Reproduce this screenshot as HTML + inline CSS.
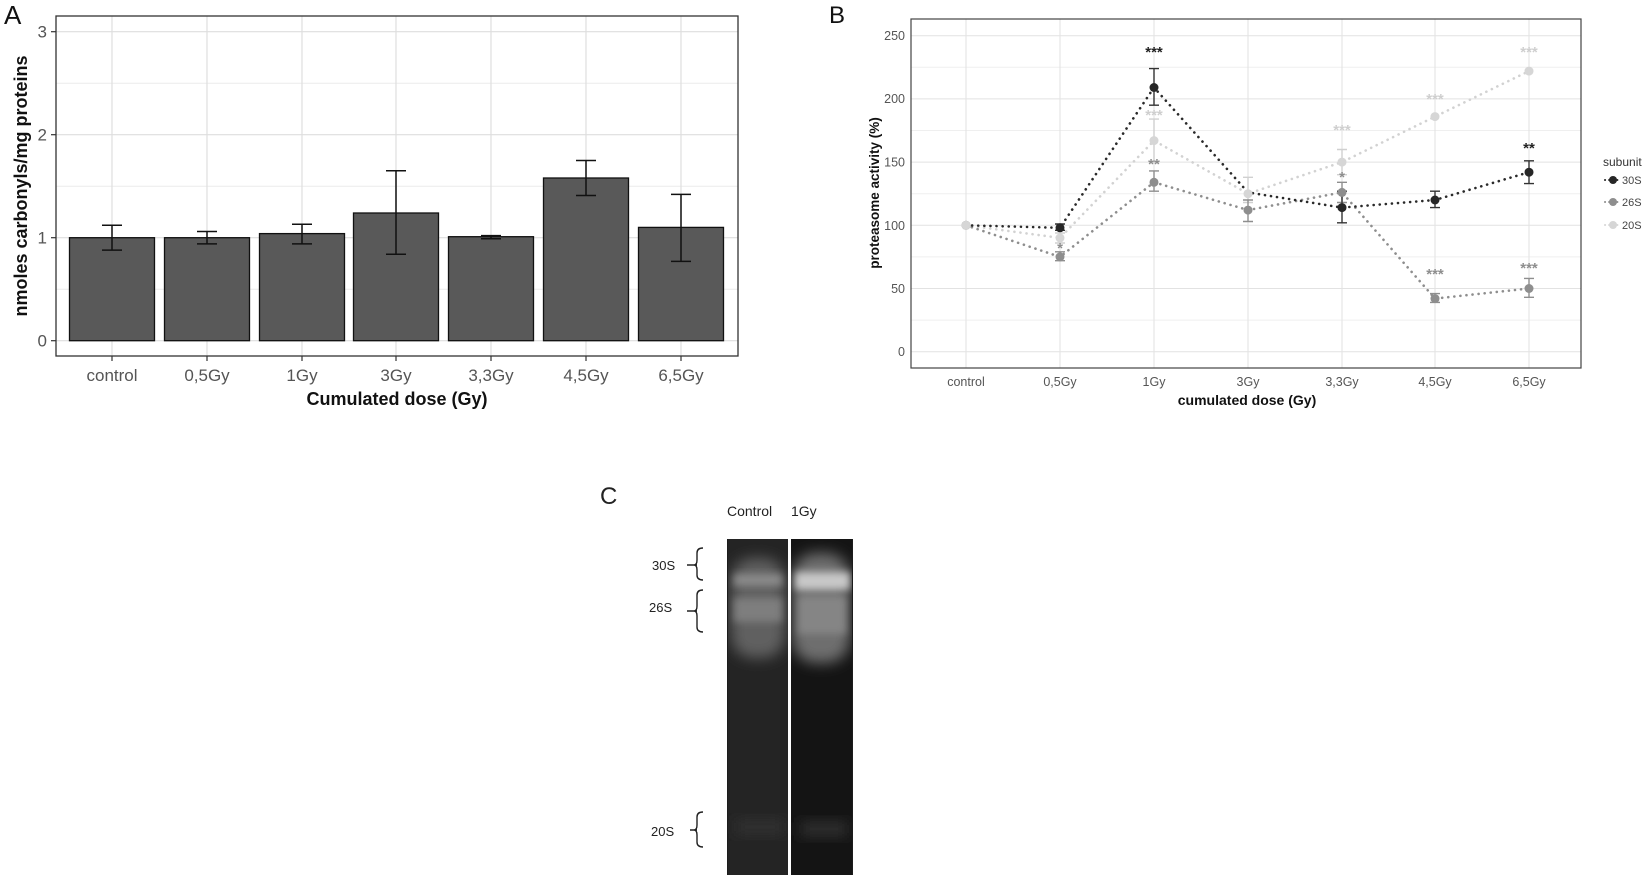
<!DOCTYPE html>
<html><head><meta charset="utf-8"><style>
html,body{margin:0;padding:0;background:#fff;}
svg{display:block;font-family:"Liberation Sans",Arial,sans-serif;}
</style></head><body>
<svg width="1650" height="875" viewBox="0 0 1650 875" xmlns="http://www.w3.org/2000/svg">
<defs>
<filter id="bl" x="-50%" y="-50%" width="200%" height="200%"><feGaussianBlur stdDeviation="7"/></filter>
<filter id="bl2" x="-50%" y="-50%" width="200%" height="200%"><feGaussianBlur stdDeviation="4"/></filter>
<clipPath id="cl1"><rect x="728" y="539" width="60" height="336"/></clipPath>
<clipPath id="cl2"><rect x="791" y="539" width="61" height="336"/></clipPath>
</defs>

<!-- Panel A -->
<text x="4" y="24" font-size="26" fill="#111">A</text>
<g stroke="#ebebeb" stroke-width="1">
<line x1="56" x2="738" y1="289.2" y2="289.2"/><line x1="56" x2="738" y1="186.2" y2="186.2"/><line x1="56" x2="738" y1="83.2" y2="83.2"/>
</g>
<g stroke="#dedede" stroke-width="1.2">
<line x1="56" x2="738" y1="340.7" y2="340.7"/><line x1="56" x2="738" y1="237.7" y2="237.7"/><line x1="56" x2="738" y1="134.7" y2="134.7"/><line x1="56" x2="738" y1="31.7" y2="31.7"/>
<line x1="112" x2="112" y1="16" y2="356"/><line x1="207" x2="207" y1="16" y2="356"/><line x1="302" x2="302" y1="16" y2="356"/><line x1="396" x2="396" y1="16" y2="356"/><line x1="491" x2="491" y1="16" y2="356"/><line x1="586" x2="586" y1="16" y2="356"/><line x1="681" x2="681" y1="16" y2="356"/>
</g>
<g fill="#595959" stroke="#111" stroke-width="1.3">
<rect x="69.5" y="237.7" width="85" height="103"/>
<rect x="164.5" y="237.7" width="85" height="103"/>
<rect x="259.5" y="233.6" width="85" height="107.1"/>
<rect x="353.5" y="213" width="85" height="127.7"/>
<rect x="448.5" y="236.7" width="85" height="104"/>
<rect x="543.5" y="178" width="85" height="162.7"/>
<rect x="638.5" y="227.4" width="85" height="113.3"/>
</g>
<g stroke="#111" stroke-width="1.5" fill="none">
<path d="M112 225.3V250.1M102 225.3H122M102 250.1H122"/>
<path d="M207 231.5V243.9M197 231.5H217M197 243.9H217"/>
<path d="M302 224.3V243.9M292 224.3H312M292 243.9H312"/>
<path d="M396 170.8V254.2M386 170.8H406M386 254.2H406"/>
<path d="M491 235.6V238.7M481 235.6H501M481 238.7H501"/>
<path d="M586 160.5V195.5M576 160.5H596M576 195.5H596"/>
<path d="M681 194.4V261.4M671 194.4H691M671 261.4H691"/>
</g>
<rect x="56" y="16" width="682" height="340" fill="none" stroke="#333" stroke-width="1.3"/>
<g stroke="#333" stroke-width="1.2">
<line x1="51" x2="56" y1="340.7" y2="340.7"/><line x1="51" x2="56" y1="237.7" y2="237.7"/><line x1="51" x2="56" y1="134.7" y2="134.7"/><line x1="51" x2="56" y1="31.7" y2="31.7"/>
<line x1="112" x2="112" y1="356" y2="361"/><line x1="207" x2="207" y1="356" y2="361"/><line x1="302" x2="302" y1="356" y2="361"/><line x1="396" x2="396" y1="356" y2="361"/><line x1="491" x2="491" y1="356" y2="361"/><line x1="586" x2="586" y1="356" y2="361"/><line x1="681" x2="681" y1="356" y2="361"/>
</g>
<g font-size="17" fill="#555" text-anchor="end">
<text x="47" y="346.7">0</text><text x="47" y="243.7">1</text><text x="47" y="140.7">2</text><text x="47" y="37.7">3</text>
</g>
<g font-size="17" fill="#555" text-anchor="middle">
<text x="112" y="381">control</text><text x="207" y="381">0,5Gy</text><text x="302" y="381">1Gy</text><text x="396" y="381">3Gy</text><text x="491" y="381">3,3Gy</text><text x="586" y="381">4,5Gy</text><text x="681" y="381">6,5Gy</text>
</g>
<text x="397" y="405" font-size="18" font-weight="bold" text-anchor="middle" fill="#111">Cumulated dose (Gy)</text>
<text transform="translate(27,186) rotate(-90)" font-size="18" font-weight="bold" text-anchor="middle" fill="#111">nmoles carbonyls/mg proteins</text>

<!-- Panel B -->
<text x="829" y="23" font-size="24" fill="#111">B</text>
<g stroke="#efefef" stroke-width="1">
<line x1="911" x2="1581" y1="320.1" y2="320.1"/><line x1="911" x2="1581" y1="256.9" y2="256.9"/><line x1="911" x2="1581" y1="193.7" y2="193.7"/><line x1="911" x2="1581" y1="130.5" y2="130.5"/><line x1="911" x2="1581" y1="67.3" y2="67.3"/>
</g>
<g stroke="#e2e2e2" stroke-width="1">
<line x1="911" x2="1581" y1="351.7" y2="351.7"/><line x1="911" x2="1581" y1="288.5" y2="288.5"/><line x1="911" x2="1581" y1="225.3" y2="225.3"/><line x1="911" x2="1581" y1="162.1" y2="162.1"/><line x1="911" x2="1581" y1="98.9" y2="98.9"/><line x1="911" x2="1581" y1="35.7" y2="35.7"/>
<line x1="966" x2="966" y1="19" y2="368"/><line x1="1060" x2="1060" y1="19" y2="368"/><line x1="1154" x2="1154" y1="19" y2="368"/><line x1="1248" x2="1248" y1="19" y2="368"/><line x1="1342" x2="1342" y1="19" y2="368"/><line x1="1435" x2="1435" y1="19" y2="368"/><line x1="1529" x2="1529" y1="19" y2="368"/>
</g>
<g fill="none" stroke-width="2.6" stroke-dasharray="0.1 6" stroke-linecap="round">
<polyline stroke="#d2d2d2" points="966,225.3 1060,237.9 1154,140.6 1248,193.7 1342,162.1 1435,116.6 1529,71.1"/>
<polyline stroke="#8e8e8e" points="966,225.3 1060,256.9 1154,182.3 1248,210.1 1342,192.4 1435,298.6 1529,288.5"/>
<polyline stroke="#2a2a2a" points="966,225.3 1060,227.8 1154,87.5 1248,192.4 1342,207.6 1435,200 1529,172.2"/>
</g>
<g fill="none" stroke-width="1.4">
<g stroke="#d0d0d0">
<path d="M1060 243V233M1055 243H1065M1055 233H1065"/>
<path d="M1154 162.1V119.1M1149 162.1H1159M1149 119.1H1159"/>
<path d="M1248 202.5V177.3M1243 202.5H1253M1243 177.3H1253"/>
<path d="M1342 174.7V149.5M1337 174.7H1347M1337 149.5H1347"/>
<path d="M1435 119V114M1529 74V68"/>
</g>
<g stroke="#8e8e8e">
<path d="M1060 260.7V251.8M1055 260.7H1065M1055 251.8H1065"/>
<path d="M1154 191.2V170.9M1149 191.2H1159M1149 170.9H1159"/>
<path d="M1248 221.5V200M1243 221.5H1253M1243 200H1253"/>
<path d="M1342 202.5V182.3M1337 202.5H1347M1337 182.3H1347"/>
<path d="M1435 302.4V293.6M1430 302.4H1440M1430 293.6H1440"/>
<path d="M1529 297.3V278.4M1524 297.3H1534M1524 278.4H1534"/>
</g>
<g stroke="#333">
<path d="M1060 230.3V224M1055 230.3H1065M1055 224H1065"/>
<path d="M1154 105.2V68.6M1149 105.2H1159M1149 68.6H1159"/>
<path d="M1342 222.8V191.2M1337 222.8H1347M1337 191.2H1347"/>
<path d="M1435 207.6V191.2M1430 207.6H1440M1430 191.2H1440"/>
<path d="M1529 183.6V160.8M1524 183.6H1534M1524 160.8H1534"/>
</g>
</g>
<g fill="#d6d6d6">
<circle cx="966" cy="225.3" r="4.5"/><circle cx="1060" cy="237.9" r="4.5"/><circle cx="1154" cy="140.6" r="4.5"/><circle cx="1248" cy="193.7" r="4.5"/><circle cx="1342" cy="162.1" r="4.5"/><circle cx="1435" cy="116.6" r="4.5"/><circle cx="1529" cy="71.1" r="4.5"/>
</g>
<g fill="#8e8e8e">
<circle cx="966" cy="225.3" r="4.5"/><circle cx="1060" cy="256.9" r="4.5"/><circle cx="1154" cy="182.3" r="4.5"/><circle cx="1248" cy="210.1" r="4.5"/><circle cx="1342" cy="192.4" r="4.5"/><circle cx="1435" cy="298.6" r="4.5"/><circle cx="1529" cy="288.5" r="4.5"/>
</g>
<g fill="#262626">
<circle cx="1060" cy="227.8" r="4.5"/><circle cx="1154" cy="87.5" r="4.5"/><circle cx="1342" cy="207.6" r="4.5"/><circle cx="1435" cy="200" r="4.5"/><circle cx="1529" cy="172.2" r="4.5"/>
</g>
<circle cx="966" cy="225.3" r="4.5" fill="#d6d6d6"/>
<g font-size="15" font-weight="bold" text-anchor="middle">
<text x="1154" y="57" fill="#222">***</text>
<text x="1154" y="120" fill="#cfcfcf">***</text>
<text x="1154" y="169" fill="#8e8e8e">**</text>
<text x="1060" y="253" fill="#8e8e8e">*</text>
<text x="1342" y="135" fill="#cfcfcf">***</text>
<text x="1342" y="182" fill="#8e8e8e">*</text>
<text x="1435" y="104" fill="#cfcfcf">***</text>
<text x="1435" y="279" fill="#8e8e8e">***</text>
<text x="1529" y="57" fill="#cfcfcf">***</text>
<text x="1529" y="153" fill="#222">**</text>
<text x="1529" y="273" fill="#8e8e8e">***</text>
</g>
<rect x="911" y="19" width="670" height="349" fill="none" stroke="#444" stroke-width="1.2"/>
<g font-size="12.5" fill="#555" text-anchor="end">
<text x="905" y="356">0</text><text x="905" y="293">50</text><text x="905" y="230">100</text><text x="905" y="166.5">150</text><text x="905" y="103">200</text><text x="905" y="40">250</text>
</g>
<g font-size="12.5" fill="#555" text-anchor="middle">
<text x="966" y="386">control</text><text x="1060" y="386">0,5Gy</text><text x="1154" y="386">1Gy</text><text x="1248" y="386">3Gy</text><text x="1342" y="386">3,3Gy</text><text x="1435" y="386">4,5Gy</text><text x="1529" y="386">6,5Gy</text>
</g>
<text x="1247" y="405" font-size="14" font-weight="bold" text-anchor="middle" fill="#111">cumulated dose (Gy)</text>
<text transform="translate(879,193) rotate(-90)" font-size="13.5" font-weight="bold" text-anchor="middle" fill="#111">proteasome activity (%)</text>
<text x="1603" y="166" font-size="12" fill="#333">subunit</text>
<g stroke-width="2" stroke-dasharray="0.1 4" stroke-linecap="round">
<line x1="1605" x2="1621" y1="180" y2="180" stroke="#262626"/>
<line x1="1605" x2="1621" y1="202" y2="202" stroke="#8e8e8e"/>
<line x1="1605" x2="1621" y1="225" y2="225" stroke="#d6d6d6"/>
</g>
<circle cx="1613" cy="180" r="4" fill="#262626"/><circle cx="1613" cy="202" r="4" fill="#8e8e8e"/><circle cx="1613" cy="225" r="4" fill="#d6d6d6"/>
<g font-size="11" fill="#444"><text x="1622" y="184">30S</text><text x="1622" y="206">26S</text><text x="1622" y="229">20S</text></g>

<!-- Panel C -->
<text x="600" y="504" font-size="24" fill="#222">C</text>
<text x="727" y="516" font-size="14" fill="#222">Control</text>
<text x="791" y="516" font-size="14" fill="#222">1Gy</text>
<rect x="727" y="539" width="126" height="336" fill="#1c1c1c"/>
<g clip-path="url(#cl1)">
<rect x="728" y="539" width="60" height="336" fill="#242424"/>
<rect x="731" y="558" width="54" height="100" rx="22" fill="#606060" filter="url(#bl)"/>
<rect x="734" y="574" width="48" height="12" fill="#8a8a8a" filter="url(#bl2)"/>
<rect x="734" y="598" width="48" height="24" fill="#7e7e7e" filter="url(#bl2)"/>
<rect x="735" y="820" width="50" height="14" fill="#333" filter="url(#bl)"/>
</g>
<g clip-path="url(#cl2)">
<rect x="791" y="539" width="61" height="336" fill="#141414"/>
<rect x="792" y="553" width="58" height="110" rx="24" fill="#6e6e6e" filter="url(#bl)"/>
<rect x="795" y="572" width="55" height="18" fill="#c8c8c8" filter="url(#bl2)"/>
<rect x="798" y="596" width="48" height="38" fill="#858585" filter="url(#bl2)"/>
<rect x="800" y="822" width="48" height="14" fill="#303030" filter="url(#bl)"/>
</g>
<rect x="788" y="539" width="3" height="336" fill="#fff"/>
<g font-size="13" fill="#222">
<text x="652" y="570">30S</text><text x="649" y="612">26S</text><text x="651" y="836">20S</text>
</g>
<g fill="none" stroke="#222" stroke-width="1.4">
<path d="M687 565H697M703 548Q697 548 697 553V560Q697 565 694 565Q697 565 697 570V575Q697 580 703 580"/>
<path d="M687 611H697M703 590Q697 590 697 595V606Q697 611 694 611Q697 611 697 616V627Q697 632 703 632"/>
<path d="M690 830H697M703 812Q697 812 697 817V825Q697 830 694 830Q697 830 697 835V842Q697 847 703 847"/>
</g>
</svg>
</body></html>
